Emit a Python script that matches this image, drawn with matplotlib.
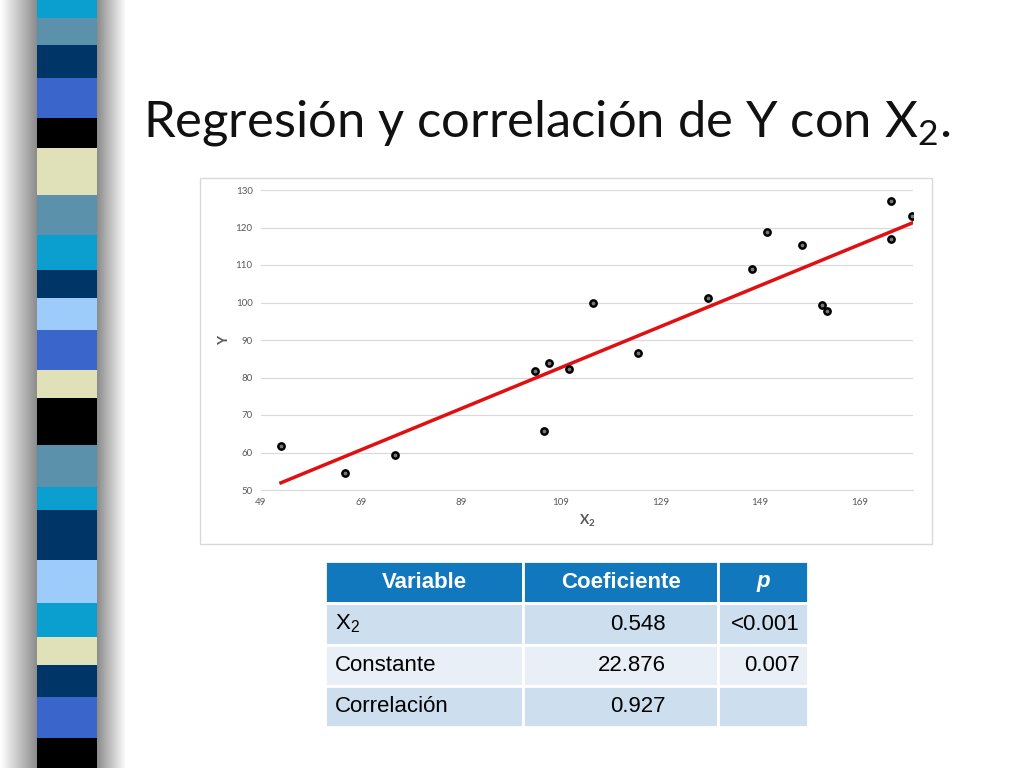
import matplotlib
matplotlib.use('Agg')
import matplotlib.pyplot as plt
import numpy as np
from matplotlib.patches import Rectangle

plt.rcParams['font.family'] = 'Lato'
plt.rcParams['mathtext.fontset'] = 'custom'
plt.rcParams['mathtext.rm'] = 'Lato'

# data
x2 = [53.0, 65.8, 75.8, 103.8, 105.6, 106.6, 110.6, 115.6, 124.6, 138.6,
      147.4, 150.4, 157.4, 161.4, 162.4, 175.2, 175.2, 179.4]
y = [61.7, 54.5, 59.3, 81.7, 65.7, 83.9, 82.3, 99.9, 86.5, 101.2,
     108.9, 118.8, 115.3, 99.3, 97.7, 127.1, 116.9, 123.1]
slope, intercept = 0.548, 22.876
xticks = [49, 69, 89, 109, 129, 149, 169]
yticks = [50, 60, 70, 80, 90, 100, 110, 120, 130]

table_header = ["Variable", "Coeficiente", "p"]
table_rows = [
    ["X$_\\mathregular{2}$", "0.548", "<0.001"],
    ["Constante", "22.876", "0.007"],
    ["Correlación", "0.927", ""],
]

# stripe bands (top y, bottom y in px, colour)
STRIPES = [
    (0, 18, "#0a9fcf"), (18, 45, "#5b91aa"), (45, 78, "#003567"),
    (78, 118, "#3a66cc"), (118, 148, "#000000"), (148, 195, "#e0e1b9"),
    (195, 235, "#5b91aa"), (235, 270, "#0a9fcf"), (270, 298, "#003567"),
    (298, 330, "#9dccfb"), (330, 370, "#3a66cc"), (370, 398, "#e0e1b9"),
    (398, 445, "#000000"), (445, 487, "#5b91aa"), (487, 510, "#0a9fcf"),
    (510, 560, "#003567"), (560, 603, "#9dccfb"), (603, 637, "#0a9fcf"),
    (637, 665, "#e0e1b9"), (665, 697, "#003567"), (697, 738, "#3a66cc"),
    (738, 768, "#000000"),
]

W, H = 1024, 768
fig = plt.figure(figsize=(10.24, 7.68), dpi=100)
bg = fig.add_axes([0, 0, 1, 1])
bg.set_xlim(0, W)
bg.set_ylim(H, 0)
bg.axis('off')

# shadow behind stripe
grad = np.concatenate([np.linspace(1, 0.55, 37), np.full(60, 0.55), np.linspace(0.55, 1, 30)])
bg.imshow(np.tile(grad, (2, 1)), cmap='gray', vmin=0, vmax=1, extent=[0, 127, H, 0], aspect='auto')
for top, bot, c in STRIPES:
    bg.add_patch(Rectangle((37, top), 60, bot - top, color=c, lw=0))

bg.text(143, 137, "Regresión y correlación de Y con X$_\\mathregular{2}$.", fontsize=36.5, color="#111111")

# chart frame
bg.add_patch(Rectangle((200, 178), 732, 366, fill=False, ec="#d9d9d9", lw=1))

# table
cols = [325, 523, 718, 808]
rows = [561, 603, 645, 686, 727]
hdr = "#1178bd"
fills = ["#cddeee", "#e8eff7", "#cddeee"]
for j in range(3):
    bg.add_patch(Rectangle((cols[j], rows[0]), cols[j + 1] - cols[j], rows[1] - rows[0],
                           fc=hdr, ec="white", lw=2))
    bg.text((cols[j] + cols[j + 1]) / 2, (rows[0] + rows[1]) / 2, table_header[j],
            color="white", fontsize=16, weight="bold", style="italic" if j == 2 else "normal",
            ha="center", va="center", family="Liberation Sans")
for i, r in enumerate(table_rows):
    for j in range(3):
        bg.add_patch(Rectangle((cols[j], rows[i + 1]), cols[j + 1] - cols[j], rows[i + 2] - rows[i + 1],
                               fc=fills[i], ec="white", lw=2))
    ym = (rows[i + 1] + rows[i + 2]) / 2
    bg.text(cols[0] + 10, ym, r[0], fontsize=16, va="center", family="Liberation Sans")
    bg.text(cols[2] - 52, ym, r[1], fontsize=16, va="center", ha="right", family="Liberation Sans")
    bg.text(cols[3] - 8, ym, r[2], fontsize=16, va="center", ha="right", family="Liberation Sans")

# scatter plot
ax = fig.add_axes([261 / W, 1 - 490 / H, 652 / W, 300 / H])
ax.set_xlim(49, 179.6)
ax.set_ylim(50, 130)
ax.set_xticks(xticks)
ax.set_yticks(yticks)
ax.grid(axis='y', color="#d9d9d9", lw=0.8)
ax.set_axisbelow(True)
for s in ['top', 'right', 'left']:
    ax.spines[s].set_visible(False)
ax.spines['bottom'].set_color("#d9d9d9")
ax.tick_params(length=0, labelsize=7, labelcolor="#595959", pad=6)
xl = np.array([min(x2), max(x2)])
ax.plot(xl, intercept + slope * xl, color="#e01010", lw=2.5, zorder=2)
ax.scatter(x2, y, s=28, c="black", edgecolors="black", zorder=3)
ax.scatter(x2, y, s=3, c="#777777", zorder=4)
ax.set_xlabel("X$_\\mathregular{2}$", fontsize=10, color="#595959", weight="bold")
ax.set_ylabel("Y", fontsize=10, color="#595959", weight="bold")

fig.savefig("out.png", dpi=100)
